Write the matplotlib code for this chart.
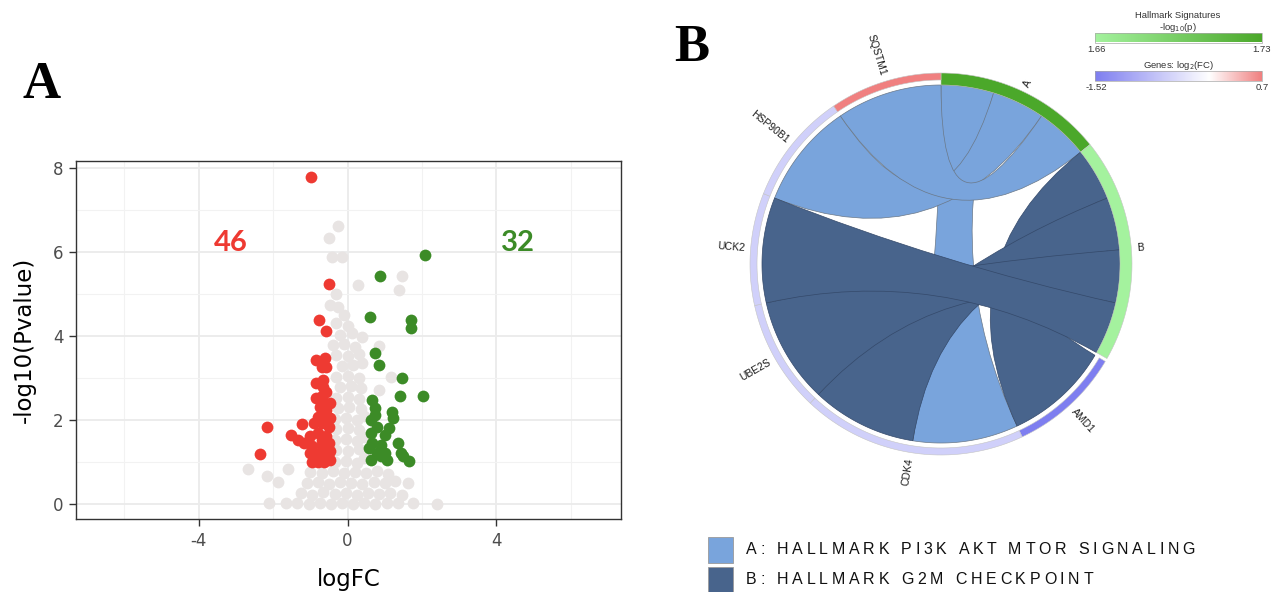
import matplotlib
matplotlib.use('Agg')

import numpy as np
import matplotlib.pyplot as plt
from matplotlib.path import Path
from matplotlib.patches import PathPatch, Polygon, Rectangle
from matplotlib.colors import LinearSegmentedColormap

plt.rcParams['axes.unicode_minus'] = False

W, H = 1276, 592

# ---------------- Panel A: volcano data ----------------
red_x = [-0.99, -0.51, -0.76, -0.58, -0.85, -0.61, -0.58, -0.65, -0.65, -0.68,
         -0.85, -0.74, -0.58, -0.79, -0.52, -0.68, -0.49, -2.17, -1.23, -1.53,
         -1.34, -1.01, -0.79, -0.58, -0.96, -0.68, -0.50, -1.01, -0.74, -0.52,
         -2.35, -0.96, -0.63, -0.85, -0.63, -0.47, -0.90, -1.17, -0.68, -0.68,
         -0.47, -0.90, -0.58, -0.47, -0.79, -0.47]
red_y = [7.79, 5.23, 4.39, 4.13, 3.43, 3.47, 3.27, 2.95, 2.79, 2.56,
         2.52, 2.32, 2.24, 2.08, 2.08, 1.92, 1.84, 1.83, 1.90, 1.65,
         1.53, 1.61, 1.69, 1.61, 1.37, 1.41, 1.45, 1.21, 1.21, 1.17,
         1.19, 1.01, 1.01, 2.87, 2.40, 2.40, 1.92, 1.45, 3.27, 1.53,
         1.25, 1.13, 2.67, 2.04, 1.01, 1.05]

green_x = [2.08, 0.86, 0.59, 1.71, 1.71, 0.73, 0.84, 1.46, 1.41, 2.03,
           0.67, 0.73, 1.20, 1.22, 0.64, 0.78, 1.11, 1.00, 0.62, 1.36,
           0.67, 0.89, 0.57, 1.00, 1.43, 0.62, 1.05, 1.65, 0.78, 0.89,
           0.73, 1.49]
green_y = [5.92, 5.44, 4.45, 4.38, 4.18, 3.60, 3.31, 3.01, 2.58, 2.56,
           2.48, 2.28, 2.20, 2.04, 2.00, 1.84, 1.80, 1.65, 1.69, 1.45,
           1.45, 1.41, 1.33, 1.21, 1.21, 1.05, 1.05, 1.03, 1.21, 1.13,
           2.12, 1.13]

gray_x = [-2.10, -1.66, -1.35, -1.05, -0.75, -0.45, -0.15, 0.15, 0.45, 0.75, 1.05, 1.35, 1.76, 2.41,
          -1.25, -0.95, -0.65, -0.35, -0.05, 0.25, 0.55, 0.85, 1.15, 1.45,
          -1.88, -1.10, -0.80, -0.50, -0.20, 0.10, 0.40, 0.70, 1.00, 1.27, 1.63,
          -2.67, -2.17, -1.61, -1.00, -0.70, -0.40, -0.10, 0.20, 0.50, 0.80, 1.10,
          -0.35, -0.05, 0.25, 0.45, -0.30, 0.00, 0.30,
          -0.35, -0.05, 0.25, 0.45, -0.30, 0.00, 0.30,
          -0.35, -0.05, 0.25, 0.45, -0.25, 0.05, 0.35,
          -0.30, 0.00, 0.30, -0.20, 0.10, 0.35, 0.84,
          -0.30, 0.00, 0.30, 1.16, -0.15, 0.15, 0.40,
          -0.30, 0.00, 0.30, -0.40, -0.10, 0.20, 0.84,
          -0.20, 0.13, 0.40, -0.30, 0.00,
          -0.47, -0.25, -0.10, -0.30, 0.29, 1.46, 1.38,
          -0.41, -0.16, -0.51, -0.27]
gray_y = [0.02, 0.02, 0.02, 0.00, 0.01, 0.00, 0.02, 0.00, 0.01, 0.00, 0.02, 0.01, 0.02, 0.00,
          0.25, 0.22, 0.28, 0.24, 0.26, 0.22, 0.27, 0.24, 0.26, 0.22,
          0.51, 0.50, 0.52, 0.48, 0.53, 0.50, 0.47, 0.52, 0.49, 0.54, 0.50,
          0.83, 0.67, 0.83, 0.76, 0.74, 0.78, 0.73, 0.77, 0.74, 0.78, 0.72,
          1.00, 1.02, 0.98, 1.10, 1.28, 1.25, 1.30,
          1.52, 1.55, 1.50, 1.60, 1.78, 1.80, 1.76,
          2.02, 2.05, 2.00, 2.10, 2.28, 2.30, 2.25,
          2.52, 2.55, 2.50, 2.78, 2.80, 2.75, 2.71,
          3.02, 3.05, 3.00, 3.03, 3.28, 3.30, 3.35,
          3.55, 3.52, 3.58, 3.78, 3.80, 3.75, 3.76,
          4.02, 4.06, 3.98, 4.30, 4.25,
          4.73, 4.69, 4.50, 4.99, 5.21, 5.42, 5.10,
          5.89, 5.89, 6.34, 6.61]

n_down = 46
n_up = 32

# ---------------- Panel B: chord data ----------------
terms = ["A", "B"]
term_names = ["HALLMARK PI3K AKT MTOR SIGNALING", "HALLMARK G2M CHECKPOINT"]
term_logp = [1.73, 1.66]
genes = ["AMD1", "CDK4", "UBE2S", "UCK2", "HSP90B1", "SQSTM1"]
gene_logfc = [-1.52, -0.55, -0.55, -0.55, -0.55, 0.70]
links = [("CDK4", "A"), ("HSP90B1", "A"), ("SQSTM1", "A"),
         ("AMD1", "B"), ("CDK4", "B"), ("UBE2S", "B"), ("UCK2", "B")]
logp_range = (1.66, 1.73)
logfc_range = (-1.52, 0.7)

term_colors = {"A": "#79A4DC", "B": "#48648C"}
term_edges = {"A": "#6A7888", "B": "#34496A"}

cmap_p = LinearSegmentedColormap.from_list("p", ["#A4F29E", "#4BA82A"])
zero_pos = -logfc_range[0] / (logfc_range[1] - logfc_range[0])
cmap_fc = LinearSegmentedColormap.from_list(
    "fc", [(0, "#7E7EF0"), (zero_pos, "#FFFFFF"), (1, "#F08080")])

fig = plt.figure(figsize=(W / 100, H / 100), dpi=100)

# ---------------- Panel A ----------------
ax = fig.add_axes([76 / W, 1 - 519 / H, 545 / W, 358 / H])
ax.set_xlim(-7.3, 7.35)
ax.set_ylim(-0.36, 8.17)
ax.set_xticks([-4, 0, 4])
ax.set_xticks([-6, -2, 2, 6], minor=True)
ax.set_yticks([0, 2, 4, 6, 8])
ax.set_yticks([1, 3, 5, 7], minor=True)
ax.grid(which='major', color='#EBEBEB', lw=1.3)
ax.grid(which='minor', color='#F2F2F2', lw=0.8)
ax.set_axisbelow(True)
ax.tick_params(which='minor', length=0)
ax.tick_params(which='major', length=5, width=1.0, pad=4, color='#333333',
               labelcolor='#4D4D4D', labelsize=12)
for s in ax.spines.values():
    s.set_color('#333333')
    s.set_linewidth(1.0)

ax.scatter(gray_x, gray_y, s=72, color='#E8E4E3', lw=0, zorder=2)
ax.scatter(red_x, red_y, s=72, color='#EE3A32', lw=0, zorder=3)
ax.scatter(green_x, green_y, s=72, color='#3C8B27', lw=0, zorder=3)
ax.text(-3.13, 6.21, str(n_down), color='#EE3A32', fontsize=21, fontweight='bold',
        ha='center', va='center', family='Lato')
ax.text(4.57, 6.21, str(n_up), color='#3C8B27', fontsize=21, fontweight='bold',
        ha='center', va='center', family='Lato')
ax.set_xlabel('logFC', fontsize=16.5, labelpad=13)
ax.set_ylabel('-log10(Pvalue)', fontsize=16.5, labelpad=12)

fig.text(42 / W, 1 - 85 / H, 'A', fontsize=38, fontweight='bold',
         family='Liberation Serif', ha='center', va='center')
fig.text(692 / W, 1 - 48 / H, 'B', fontsize=38, fontweight='bold',
         family='Liberation Serif', ha='center', va='center')

# ---------------- Panel B ----------------
axb = fig.add_axes([640 / W, 0, (W - 640) / W, 1])
axb.axis('off')

cx, cy = 941, 264
r_ch = 179
r_out = 191
r_gene_in = 184

def pt(a, r):
    t = np.deg2rad(a)
    return (cx + r * np.sin(t), cy - r * np.cos(t))

def arc(a0, a1, r, n=40):
    return [pt(a, r) for a in np.linspace(a0, a1, n)]

# angular layout: terms first, then genes, clockwise from top
order = terms + genes
n_links = {k: sum(1 for g, t in links if g == k or t == k) for k in order}
weight = {k: (1.0 if k in terms else 2.0) * n_links[k] for k in order}
gap_after = {"B": 1.0}
unit = (360 - sum(gap_after.values())) / sum(weight.values())
seg = {}
a = 0.0
for k in order:
    seg[k] = (a, a + weight[k] * unit)
    a += weight[k] * unit + gap_after.get(k, 0)

# sub-arcs: within each node, links sorted by the position of the partner node
chunk = {}
for k in order:
    lo, hi = seg[k]
    members = [l for l in links if k in l]
    members.sort(key=lambda l: order.index(l[1] if l[0] == k else l[0]))
    step = (hi - lo) / len(members)
    for i, l in enumerate(members):
        chunk[(k, l)] = (lo + i * step, lo + (i + 1) * step)

# ribbons: quadratic curves with the control point at the centre
for tname in terms:
    for l in links:
        if l[1] != tname:
            continue
        s0, s1 = chunk[(l[0], l)]
        t0, t1 = chunk[(l[1], l)]
        verts, codes = [], []
        p = arc(s0, s1, r_ch)
        verts += p
        codes += [Path.MOVETO] + [Path.LINETO] * (len(p) - 1)
        verts += [(cx, cy), pt(t0, r_ch)]
        codes += [Path.CURVE3] * 2
        p = arc(t0, t1, r_ch)
        verts += p[1:]
        codes += [Path.LINETO] * (len(p) - 1)
        verts += [(cx, cy), pt(s0, r_ch)]
        codes += [Path.CURVE3] * 2
        axb.add_patch(PathPatch(Path(verts, codes), facecolor=term_colors[tname],
                                edgecolor=term_edges[tname], lw=0.5, zorder=2))

# outer ring
def ring(a0, a1, r0, r1, color):
    pts = arc(a0, a1, r1) + arc(a1, a0, r0)
    axb.add_patch(Polygon(pts, closed=True, facecolor=color, edgecolor='#C4C4C4',
                          lw=0.4, zorder=3))

for t, v in zip(terms, term_logp):
    c = cmap_p((v - logp_range[0]) / (logp_range[1] - logp_range[0]))
    ring(*seg[t], r_ch, r_out, c)
for g, v in zip(genes, gene_logfc):
    c = cmap_fc((v - logfc_range[0]) / (logfc_range[1] - logfc_range[0]))
    ring(*seg[g], r_gene_in, r_out, c)

# labels
for k in order:
    m = 0.5 * (seg[k][0] + seg[k][1])
    x, y = pt(m, r_out + 6)
    if m < 180:
        rot, ha = 90 - m, 'left'
    else:
        rot, ha = 270 - m, 'right'
    axb.text(x, y, k, rotation=rot, rotation_mode='anchor', ha=ha, va='center',
             fontsize=7.5, family='Liberation Sans', color='#1A1A1A', zorder=4)

# colour scales
grad = np.linspace(0, 1, 256).reshape(1, -1)
axb.imshow(grad, cmap=cmap_p, extent=(1095, 1262, 42, 33), aspect='auto', zorder=3)
axb.imshow(grad, cmap=cmap_fc, extent=(1095, 1262, 81, 71), aspect='auto', zorder=3)
for yb in (33, 71):
    axb.add_patch(Rectangle((1095, yb), 167, 9.5, fill=False, edgecolor='#A8A8A8',
                            lw=0.5, zorder=4))
small = dict(fontsize=6.8, family='Liberation Sans', color='#333333', ha='center', va='center')
axb.text(1178, 16, 'Hallmark Signatures', **small)
axb.text(1178, 27, r'-log$_{10}$(p)', **small)
axb.text(1096, 50, f'{logp_range[0]:.2f}', **small)
axb.text(1262, 50, f'{logp_range[1]:.2f}', **small)
axb.text(1178, 65, r'Genes: log$_{2}$(FC)', **small)
axb.text(1096, 88, f'{logfc_range[0]:.2f}', **small)
axb.text(1262, 88, f'{logfc_range[1]:g}', **small)

axb.set_xlim(640, W)
axb.set_ylim(H, 0)

# legend with letter spacing
renderer = fig.canvas.get_renderer()
leg_kw = dict(fontsize=11.5, family='Liberation Sans', color='#111111')

def text_w(s):
    t = axb.text(0, 0, s + 'I', **leg_kw)
    w = t.get_window_extent(renderer).width
    t.remove()
    t = axb.text(0, 0, 'I', **leg_kw)
    w -= t.get_window_extent(renderer).width
    t.remove()
    return w

leg_lines = [f"{t}: {n}" for t, n in zip(terms, term_names)]
x0 = 746
spacing = (1195 - x0 - text_w(leg_lines[0])) / (len(leg_lines[0]) - 1)
for (t, line), yc in zip(zip(terms, leg_lines), (550, 580)):
    axb.add_patch(Rectangle((708, yc - 13), 25, 26, facecolor=term_colors[t],
                            edgecolor='#9A9A9A', lw=0.6, zorder=3, clip_on=False))
    for i, ch in enumerate(line):
        if ch == ' ':
            continue
        axb.text(x0 + text_w(line[:i]) + i * spacing, yc, ch, ha='left',
                 va='center', **leg_kw)

fig.savefig('out.png', dpi=100)
